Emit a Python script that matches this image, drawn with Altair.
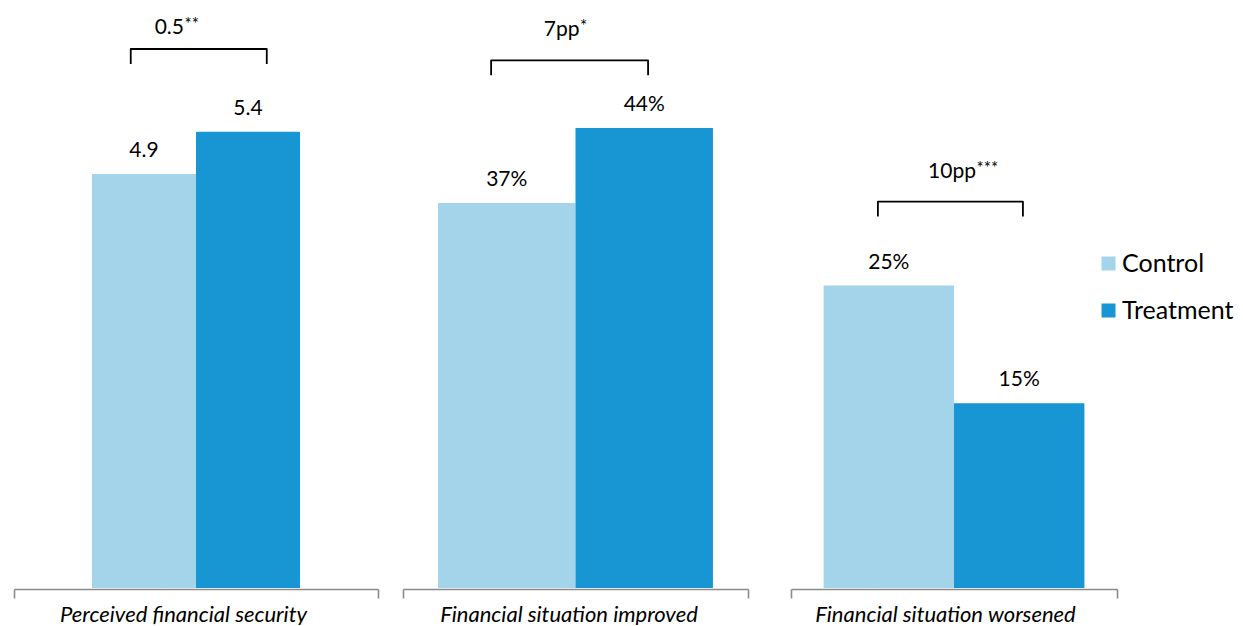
import altair as alt
import pandas as pd

# ---- data ----
measures = ["Perceived financial security", "Financial situation improved", "Financial situation worsened"]
groups = ["Control", "Treatment"]
control_values = [4.9, 37.0, 25.2]
treatment_values = [5.4, 44.2, 15.4]
diff_labels = ["0.5", "7pp", "10pp"]
diff_stars = ["**", "*", "***"]
value_formats = ["format(datum.value, '.1f')",
                 "format(datum.value, '.0f') + '%'",
                 "format(datum.value, '.0f') + '%'"]

# ---- layout / style (per panel) ----
colors = ["#a3d4ea", "#1896d3"]
H = 588
widths = [364, 345, 326]
domain_max = [6.96, 56.5, 49.0]
bar_pad = [0.75, 0.255, 0.25]
bracket_pad = [0.338, 0.099, 0.124]
bracket_align = [0.53, 0.31, 0.40]
bracket_top = [6.38, 50.7, 32.2]
text_gap = [15, 24, 24]
text_dx = [-12, 4, 22]
label_dx = [-13, -7, -9]
LEG_PX = 15
FONT = "Lato"


def panel(i):
    m = measures[i]
    df = pd.DataFrame({"measure": [m, m], "group": groups,
                       "value": [control_values[i], treatment_values[i]]})
    top = bracket_top[i]
    leg = top - LEG_PX * domain_max[i] / H
    bdf = pd.DataFrame({"measure": [m] * 4,
                        "group": ["Control", "Control", "Treatment", "Treatment"],
                        "value": [leg, top, top, leg],
                        "order": [0, 1, 2, 3]})
    adf = pd.DataFrame({"measure": [m], "value": [top],
                        "main": [diff_labels[i]], "stars": [diff_stars[i]]})

    x = alt.X("measure:N",
              scale=alt.Scale(type="band", paddingInner=0, paddingOuter=0),
              axis=alt.Axis(title=None, labelAngle=0, tickBand="extent",
                            domainColor="#8a8a8a", domainWidth=1.6,
                            tickColor="#8a8a8a", tickWidth=1.6, tickSize=9,
                            offset=1, labelFont=FONT, labelFontStyle="italic",
                            labelFontSize=22, labelColor="black", labelPadding=6,
                            labelOffset=label_dx[i], labelLimit=0))
    y = alt.Y("value:Q", scale=alt.Scale(domain=[0, domain_max[i]], nice=False, zero=True),
              axis=None)
    xoff = alt.XOffset("group:N", scale=alt.Scale(type="band", domain=groups, paddingInner=0,
                                                  paddingOuter=bar_pad[i]))
    color = alt.Color("group:N", scale=alt.Scale(domain=groups, range=colors),
                      legend=alt.Legend(title=None, orient="none", legendX=1082, legendY=251,
                                        symbolType="square", symbolSize=196,
                                        symbolStrokeWidth=0, labelFont=FONT,
                                        labelFontSize=25, labelColor="black",
                                        rowPadding=21, labelOffset=1))

    bars = alt.Chart(df).mark_bar().encode(x=x, y=y, xOffset=xoff, color=color)
    vals = alt.Chart(df).transform_calculate(label=value_formats[i]).mark_text(
        font=FONT, fontSize=21, baseline="alphabetic", dy=-17, color="black"
    ).encode(x=x, y=y, xOffset=xoff, text="label:N")
    bracket = alt.Chart(bdf).mark_line(color="black", strokeWidth=1.8,
                                       strokeJoin="round").encode(
        x=x, y=y,
        xOffset=alt.XOffset("group:N", scale=alt.Scale(type="band", domain=groups,
                                                       paddingInner=0,
                                                       paddingOuter=bracket_pad[i],
                                                       align=bracket_align[i])),
        order="order:Q")
    main = alt.Chart(adf).mark_text(font=FONT, fontSize=21, align="right",
                                    baseline="alphabetic", dx=text_dx[i],
                                    dy=-text_gap[i], color="black").encode(
        x=x, y=y, text="main:N")
    stars = alt.Chart(adf).mark_text(font=FONT, fontSize=17, align="left",
                                     baseline="alphabetic", dx=text_dx[i] + 0.5,
                                     dy=-text_gap[i] - 4, color="black").encode(
        x=x, y=y, text="stars:N")
    return alt.layer(bars, vals, bracket, main, stars).resolve_scale(
        xOffset="independent").properties(width=widths[i], height=H)


inner = alt.hconcat(panel(0), panel(1), spacing=23)
chart = alt.hconcat(inner, panel(2), spacing=41).configure_view(stroke=None).properties(
    padding={"left": 13, "top": 0, "right": 0, "bottom": 0})

chart.save("out.html", embed_options={"renderer": "svg", "actions": False})
